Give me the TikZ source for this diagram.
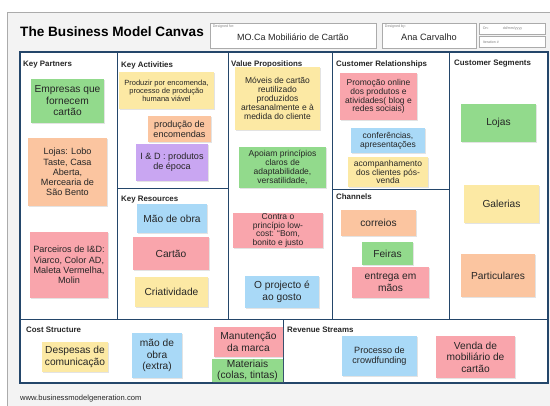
\documentclass[tikz,border=0pt]{standalone}
\usepackage{fontspec}
\setmainfont{Liberation Sans}
\usepackage{tikz}
\usetikzlibrary{shadows}
\definecolor{frame}{HTML}{24466A}
\definecolor{sheet}{HTML}{F3F3F3}
\definecolor{rim}{HTML}{ABABAB}
\definecolor{ink}{HTML}{262626}
\definecolor{pyellow}{HTML}{FCE9A4}
\definecolor{pgreen}{HTML}{92DA8C}
\definecolor{porange}{HTML}{FBC5A0}
\definecolor{ppink}{HTML}{F9A5AC}
\definecolor{pblue}{HTML}{A9D9F7}
\definecolor{ppurple}{HTML}{C9A6F2}

\begin{document}
\begin{tikzpicture}[x=1pt,y=-1pt,
  every node/.style={inner sep=0pt,text=ink},
  note/.style={fill=#1,align=center,drop shadow={shadow xshift=0.7pt,shadow yshift=-0.9pt,opacity=0.22}},
  fA/.style={font=\fontsize{10.2}{11.5}\selectfont},
  fB/.style={font=\fontsize{9.1}{10.2}\selectfont},
  fC/.style={font=\fontsize{8.5}{8.8}\selectfont},
  fD/.style={font=\fontsize{7.5}{7.9}\selectfont},
  tag/.style={font=\fontsize{3.6}{4}\selectfont,text=gray,anchor=west},
  block/.style={font=\bfseries\fontsize{7.9}{9}\selectfont,anchor=west},
  slot/.style={draw=rim,fill=white,line width=0.6pt}]
  \useasboundingbox (0,0) rectangle (550,406);
  \fill[white] (0,0) rectangle (550,406);
  \fill[sheet] (7,13) rectangle (560,420);
  \draw[rim,line width=1pt] (7,420) -- (7,13) -- (560,13);

  % header
  \node[anchor=west,font=\bfseries\fontsize{13.6}{15}\selectfont,text=black] (title) at (20,32) {The Business Model Canvas};
  \node[slot,minimum width=166,minimum height=25] (forBox) at (293,35.5) {};
  \node[tag] at ([shift={(3,3.5)}]forBox.north west) {Designed for:};
  \node[font=\fontsize{9}{10}\selectfont,yshift=-1.5pt] (forName) at (forBox.center) {MO.Ca Mobiliário de Cartão};
  \node[slot,minimum width=94,minimum height=25] (byBox) at (429,35.5) {};
  \node[tag] at ([shift={(3,3.5)}]byBox.north west) {Designed by:};
  \node[font=\fontsize{9.2}{10}\selectfont,yshift=-1.5pt] (byName) at (byBox.center) {Ana Carvalho};
  \node[slot,minimum width=66,minimum height=11] (onBox) at (512,28.5) {};
  \node[tag] at ([xshift=4pt]onBox.west) {On:};
  \node[tag] at ([xshift=24pt]onBox.west) {dd/mm/yyyy};
  \node[slot,minimum width=66,minimum height=11] (itBox) at (512,42.3) {};
  \node[tag] at ([xshift=4pt]itBox.west) {Iteration \#};

  % canvas grid
  \fill[white] (20,52) rectangle (548,383);
  \draw[frame,line width=1pt] (117,52) -- (117,320) (228,52) -- (228,320) (332,52) -- (332,320) (449,52) -- (449,320)
    (20,320) -- (548,320) (283,320) -- (283,383) (117,189) -- (228,189) (332,190) -- (449,190);
  \draw[frame,line width=1.8pt] (20,52) rectangle (548,383);
  \node[block] (kp) at (23,65) {Key Partners};
  \node[block] (ka) at (121,65) {Key Activities};
  \node[block] (kr) at (121,200) {Key Resources};
  \node[block] (vp) at (231,64) {Value Propositions};
  \node[block] (cr) at (336,64) {Customer Relationships};
  \node[block] (ch) at (336,197) {Channels};
  \node[block] (cs) at (454,64) {Customer Segments};
  \node[block] (co) at (26,330) {Cost Structure};
  \node[block] (rs) at (287,330) {Revenue Streams};

  % sticky notes
  \node[note=pgreen,fA,minimum width=73,minimum height=44] (kpSuppliers) at (67.5,101) {Empresas que\\fornecem\\cartão};
  \node[note=porange,fB,minimum width=79,minimum height=68] (kpShops) at (67.5,172) {Lojas: Lobo\\Taste, Casa\\Aberta,\\Mercearia de\\São Bento};
  \node[note=ppink,fB,minimum width=78,minimum height=66] (kpRD) at (69,265) {Parceiros de I\&D:\\Viarco, Color AD,\\Maleta Vermelha,\\Molin};
  \node[note=pyellow,fD,minimum width=95,minimum height=37] (kaMake) at (166.5,90.5) {Produzir por encomenda,\\processo de produção\\humana viável};
  \node[note=porange,fB,minimum width=63,minimum height=26] (kaOrders) at (179.5,129) {produção de\\encomendas};
  \node[note=ppurple,fB,minimum width=72,minimum height=37] (kaRD) at (172,162.5) {I \& D : produtos\\de época};
  \node[note=pblue,fA,minimum width=70,minimum height=29] (krLabour) at (172,218.5) {Mão de obra};
  \node[note=ppink,fA,minimum width=76,minimum height=33] (krCard) at (171,253.5) {Cartão};
  \node[note=pyellow,fA,minimum width=73,minimum height=30] (krIdeas) at (171.5,292) {Criatividade};
  \node[note=pyellow,fC,minimum width=85,minimum height=63] (vpFurniture) at (277.5,98.5) {Móveis de cartão\\reutilizado\\produzidos\\artesanalmente e à\\medida do cliente};
  \node[note=pgreen,fC,minimum width=87,minimum height=41] (vpPrinciples) at (282.5,167.5) {Apoiam princípios\\claros de\\adaptabilidade,\\versatilidade,};
  \node[note=ppink,fC,minimum width=90,minimum height=35] (vpLowCost) at (278,230.5) {Contra o\\princípio low-\\cost: “Bom,\\bonito e justo};
  \node[note=pblue,fA,minimum width=74,minimum height=32] (vpTaste) at (282,292) {O projecto é\\ao gosto};
  \node[note=ppink,fC,minimum width=77,minimum height=47] (crOnline) at (378.5,96.5) {Promoção online\\dos produtos e\\atividades( blog e\\redes sociais)};
  \node[note=pblue,fC,minimum width=74,minimum height=25] (crTalks) at (388,140.5) {conferências,\\apresentações};
  \node[note=pyellow,fC,minimum width=80,minimum height=30] (crFollow) at (388,172) {acompanhamento\\dos clientes pós-\\venda};
  \node[note=porange,fA,minimum width=75,minimum height=26] (chMail) at (378.5,223) {correios};
  \node[note=pgreen,fA,minimum width=51,minimum height=23] (chFairs) at (387.5,253.5) {Feiras};
  \node[note=ppink,fA,minimum width=77,minimum height=31] (chHand) at (390.5,282.5) {entrega em\\mãos};
  \node[note=pgreen,fA,minimum width=75,minimum height=38] (csShops) at (498.5,123) {Lojas};
  \node[note=pyellow,fA,minimum width=75,minimum height=38] (csGalleries) at (501.5,204) {Galerias};
  \node[note=porange,fA,minimum width=74,minimum height=43] (csPrivate) at (498,275.5) {Particulares};
  \node[note=pyellow,fA,minimum width=66,minimum height=30] (coComms) at (75,357) {Despesas de\\comunicação};
  \node[note=pblue,fA,minimum width=50,minimum height=45] (coLabour) at (157,355.5) {mão de\\obra\\(extra)};
  \node[note=ppink,fA,minimum width=69,minimum height=30] (coBrand) at (248.5,342) {Manutenção\\da marca};
  \node[note=pgreen,fA,minimum width=71,minimum height=23] (coMaterials) at (247.5,370.5) {Materiais\\(colas, tintas)};
  \node[note=pblue,fB,minimum width=75,minimum height=40] (rsCrowd) at (379.5,356) {Processo de\\crowdfunding};
  \node[note=ppink,fA,minimum width=79,minimum height=42] (rsSales) at (475.5,357) {Venda de\\mobiliário de\\cartão};

  \node[anchor=west,font=\fontsize{7.6}{9}\selectfont] (site) at (20,399) {www.businessmodelgeneration.com};
\end{tikzpicture}
\end{document}
